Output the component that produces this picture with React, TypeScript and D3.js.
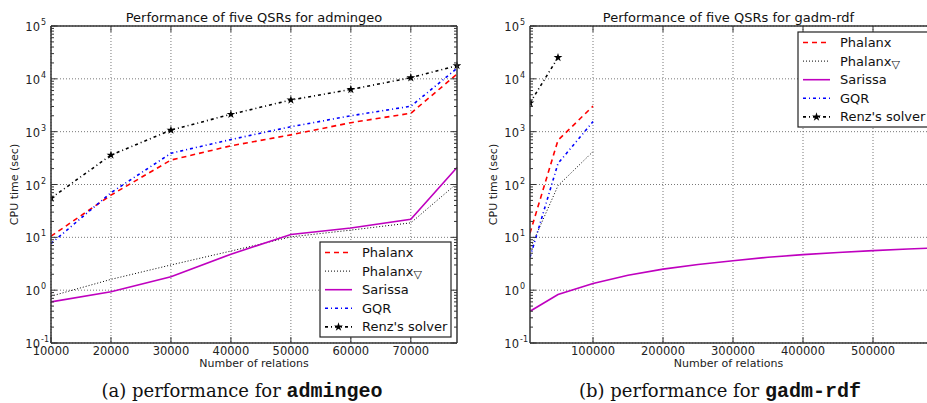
import * as d3 from "d3";

// ---- data ----
const xAdmingeo = [10000, 20000, 30000, 40000, 50000, 60000, 70000, 77700];
const admPhalanx = [10.5, 63, 290, 540, 870, 1480, 2230, 12300];
const admPhalanxV = [0.77, 1.6, 3.0, 5.5, 10.2, 13.7, 18.8, 105];
const admSarissa = [0.6, 0.93, 1.8, 4.8, 11.3, 15, 22, 210];
const admGQR = [7.6, 70, 390, 710, 1240, 2000, 3030, 15800];
const admRenz = [55, 360, 1070, 2130, 3980, 6300, 10500, 17800];

const xGadmShort = [10000, 50000, 100000];
const gadPhalanx = [12, 690, 3040];
const gadPhalanxV = [6, 95, 420];
const gadGQR = [4.2, 250, 1550];
const xGadmRenz = [10000, 50000];
const gadRenz = [3500, 25300];
const xGadmSarissa = [10000, 50000, 100000, 150000, 200000, 250000, 300000, 350000, 400000, 450000, 500000, 550000, 600000];
const gadSarissa = [0.4, 0.83, 1.34, 1.92, 2.5, 3.07, 3.6, 4.2, 4.7, 5.15, 5.6, 6.0, 6.4];

const admXTicks = [10000, 20000, 30000, 40000, 50000, 60000, 70000];
const gadXTicks = [100000, 200000, 300000, 400000, 500000];
const yDecades = [-1, 0, 1, 2, 3, 4, 5];

const seriesNames = ["Phalanx", "Phalanx", "Sarissa", "GQR", "Renz's solver"];

type Style = { color: string; width: number; dash: string; star?: boolean };
const styles: Style[] = [
  { color: "#ff0000", width: 1.6, dash: "5,4" },
  { color: "#000000", width: 1, dash: "1,2" },
  { color: "#bf00bf", width: 1.6, dash: "" },
  { color: "#0000ff", width: 1.6, dash: "3,3,1,3" },
  { color: "#000000", width: 1.6, dash: "3,3,1,3", star: true },
];

type Series = { xs: number[]; ys: number[] };

const FONT = "DejaVu Sans, sans-serif";

function Panel(props: {
  xDomain: [number, number];
  xRange: [number, number];
  xTicks: number[];
  series: Series[];
  title: string;
  legend: { x: number; y: number; w: number; h: number };
  yLabelX: number;
  rightSpine: boolean;
  captionPre: string;
  captionCode: string;
  captionX: number;
}) {
  const top = 26;
  const bottom = 343;
  const x = d3.scaleLinear().domain(props.xDomain).range(props.xRange);
  const y = d3.scaleLog().domain([0.1, 1e5]).range([bottom, top]);
  const [x0, x1] = props.xRange;
  const cx = (x0 + Math.min(x1, 927)) / 2;
  const line = d3
    .line<[number, number]>()
    .x((d) => x(d[0]))
    .y((d) => y(d[1]));
  const minor: number[] = [];
  yDecades.slice(0, -1).forEach((e) => {
    for (let k = 2; k <= 9; k++) minor.push(k * Math.pow(10, e));
  });
  const star = d3.symbol(d3.symbolStar, 24)() as string;
  const clipId = "clip" + Math.round(x0);
  const lg = props.legend;
  const rowH = 18.6;

  return (
    <g>
      <defs>
        <clipPath id={clipId}>
          <rect x={x0} y={top - 4} width={x1 - x0 + 4} height={bottom - top + 8} />
        </clipPath>
      </defs>
      {/* grid */}
      {props.xTicks.map((t) => (
        <line key={"gx" + t} x1={x(t)} x2={x(t)} y1={top} y2={bottom} stroke="#555" strokeWidth={0.8} strokeDasharray="1,2" />
      ))}
      {yDecades.map((e) => (
        <line key={"gy" + e} x1={x0} x2={x1} y1={y(Math.pow(10, e))} y2={y(Math.pow(10, e))} stroke="#555" strokeWidth={0.8} strokeDasharray="1,2" />
      ))}
      {/* series */}
      <g clipPath={`url(#${clipId})`}>
        {props.series.map((s, i) => {
          const st = styles[i];
          const pts = s.xs.map((v, j) => [v, s.ys[j]] as [number, number]);
          return (
            <g key={"s" + i}>
              <path d={line(pts) as string} fill="none" stroke={st.color} strokeWidth={st.width} strokeDasharray={st.dash || undefined} />
              {st.star &&
                pts.map((p, j) => (
                  <path key={j} d={star} transform={`translate(${x(p[0])},${y(p[1])})`} fill="#000" />
                ))}
            </g>
          );
        })}
      </g>
      {/* ticks */}
      {minor.map((m) => (
        <g key={"m" + m}>
          <line x1={x0} x2={x0 + 3} y1={y(m)} y2={y(m)} stroke="#333" />
          {props.rightSpine && <line x1={x1 - 3} x2={x1} y1={y(m)} y2={y(m)} stroke="#333" />}
        </g>
      ))}
      {yDecades.map((e) => (
        <g key={"yt" + e}>
          <line x1={x0} x2={x0 + 6} y1={y(Math.pow(10, e))} y2={y(Math.pow(10, e))} stroke="#333" />
          {props.rightSpine && <line x1={x1 - 6} x2={x1} y1={y(Math.pow(10, e))} y2={y(Math.pow(10, e))} stroke="#333" />}
          <text x={x0 - 11} y={y(Math.pow(10, e)) + 5} textAnchor="end" fontFamily={FONT} fontSize={11.5} fill="#222">
            10
          </text>
          <text x={x0 - 10} y={y(Math.pow(10, e)) - 1} textAnchor="start" fontFamily={FONT} fontSize={8} fill="#222">
            {e < 0 ? "-" + -e : String(e)}
          </text>
        </g>
      ))}
      {props.xTicks.map((t) => (
        <g key={"xt" + t}>
          <line x1={x(t)} x2={x(t)} y1={bottom} y2={bottom - 6} stroke="#333" />
          <line x1={x(t)} x2={x(t)} y1={top} y2={top + 6} stroke="#333" />
          <text x={x(t)} y={355} textAnchor="middle" fontFamily={FONT} fontSize={11.5} fill="#222">
            {t}
          </text>
        </g>
      ))}
      {/* spines */}
      <line x1={x0} x2={x0} y1={top} y2={bottom} stroke="#333" strokeWidth={1.5} />
      <line x1={x0} x2={x1} y1={top} y2={top} stroke="#333" strokeWidth={1.5} />
      <line x1={x0} x2={x1} y1={bottom} y2={bottom} stroke="#333" strokeWidth={1.5} />
      {props.rightSpine && <line x1={x1} x2={x1} y1={top} y2={bottom} stroke="#333" strokeWidth={1.5} />}
      {/* titles */}
      <text x={cx} y={22} textAnchor="middle" fontFamily={FONT} fontSize={13} fill="#111">
        {props.title}
      </text>
      <text x={cx} y={367} textAnchor="middle" fontFamily={FONT} fontSize={11} fill="#222">
        Number of relations
      </text>
      <text transform={`translate(${props.yLabelX},${(top + bottom) / 2}) rotate(-90)`} textAnchor="middle" fontFamily={FONT} fontSize={11} fill="#222">
        CPU time (sec)
      </text>
      {/* legend */}
      <rect x={lg.x} y={lg.y} width={lg.w} height={lg.h} fill="#fff" stroke="#222" strokeWidth={1.2} />
      {seriesNames.map((n, i) => {
        const st = styles[i];
        const ly = lg.y + 10.5 + i * rowH;
        return (
          <g key={"lg" + i}>
            <line x1={lg.x + 5} x2={lg.x + 32} y1={ly} y2={ly} stroke={st.color} strokeWidth={st.width} strokeDasharray={st.dash || undefined} />
            {st.star && <path d={star} transform={`translate(${lg.x + 18.5},${ly})`} fill="#000" />}
            <text x={lg.x + 42} y={ly + 4.5} fontFamily={FONT} fontSize={13} fill="#111">
              {n}
              {i === 1 && <tspan fontSize={11} dy={2}>▽</tspan>}
            </text>
          </g>
        );
      })}
      {/* caption */}
      <text x={props.captionX} y={397} textAnchor="middle" fill="#111">
        <tspan fontFamily="DejaVu Serif, serif" fontSize={18}>{props.captionPre}</tspan>
        <tspan fontFamily="Liberation Mono, monospace" fontSize={20} fontWeight="bold">{props.captionCode}</tspan>
      </text>
    </g>
  );
}

export default function App() {
  return (
    <svg width={927} height={403} style={{ position: "absolute", left: 0, top: 0, background: "#fff" }}>
      <Panel
        xDomain={[10000, 77700]}
        xRange={[51, 457]}
        xTicks={admXTicks}
        series={[
          { xs: xAdmingeo, ys: admPhalanx },
          { xs: xAdmingeo, ys: admPhalanxV },
          { xs: xAdmingeo, ys: admSarissa },
          { xs: xAdmingeo, ys: admGQR },
          { xs: xAdmingeo, ys: admRenz },
        ]}
        title="Performance of five QSRs for admingeo"
        legend={{ x: 320, y: 242, w: 131, h: 95 }}
        yLabelX={18}
        rightSpine={true}
        captionPre="(a) performance for "
        captionCode="admingeo"
        captionX={242}
      />
      <Panel
        xDomain={[10000, 580000]}
        xRange={[530, 929]}
        xTicks={gadXTicks}
        series={[
          { xs: xGadmShort, ys: gadPhalanx },
          { xs: xGadmShort, ys: gadPhalanxV },
          { xs: xGadmSarissa, ys: gadSarissa },
          { xs: xGadmShort, ys: gadGQR },
          { xs: xGadmRenz, ys: gadRenz },
        ]}
        title="Performance of five QSRs for gadm-rdf"
        legend={{ x: 798, y: 32, w: 140, h: 95 }}
        yLabelX={497}
        rightSpine={false}
        captionPre="(b) performance for "
        captionCode="gadm-rdf"
        captionX={720}
      />
    </svg>
  );
}
